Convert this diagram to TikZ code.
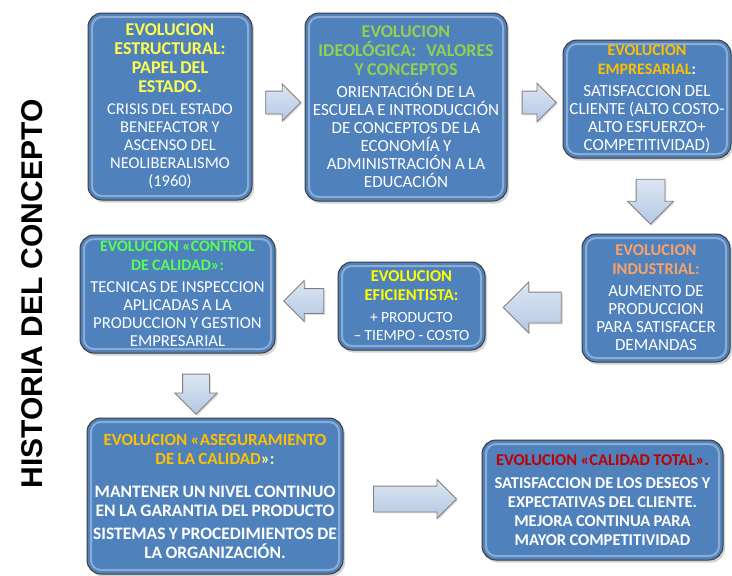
\documentclass[tikz,border=0pt]{standalone}
\usepackage{fontspec}
\setmainfont{Carlito}
\newfontfamily\arialf{Liberation Sans}
\usetikzlibrary{shapes.arrows,shadows,calc}
\definecolor{boxblue}{HTML}{4F81BD}
\definecolor{boxedge}{HTML}{3C3C3C}
\definecolor{arrtop}{HTML}{DCE6F2}
\definecolor{arrbot}{HTML}{B4C8E4}
\definecolor{arredge}{HTML}{7F7F7F}
\definecolor{cyel}{HTML}{FFFF4D}
\definecolor{cgreen}{HTML}{92D050}
\definecolor{cgold}{HTML}{FFC000}
\definecolor{csalmon}{HTML}{F9A36B}
\definecolor{cyel2}{HTML}{FFFF00}
\definecolor{cgreen2}{HTML}{55FF55}
\definecolor{cred}{HTML}{C00000}
\definecolor{clightyel}{HTML}{FFF59A}
\newcommand\evtitle[3][16]{{\fontsize{#1}{19}\selectfont\bfseries\color{#2}#3\par}\vspace{4pt}}
\newcommand\evbody[2][17]{{\fontsize{#1}{18}\selectfont #2\par}}
\newcommand\evbodyb[2][16.5]{{\fontsize{#1}{19}\selectfont\bfseries #2\par}}
\tikzset{
  evbox/.style={rectangle, rounded corners=14pt, draw=boxedge, line width=1pt,
    fill=boxblue, text=white, align=center, inner sep=0pt,
    drop shadow={opacity=0.35, shadow xshift=2pt, shadow yshift=-2.5pt},
    path picture={\draw[white, opacity=0.35, line width=2pt, rounded corners=10pt]
      ([shift={(4pt,-4pt)}]path picture bounding box.north west) rectangle
      ([shift={(-4pt,4pt)}]path picture bounding box.south east);}},
  blockarrow/.style={single arrow, draw=arredge, top color=arrtop, bottom color=arrbot,
    line width=0.8pt, single arrow tip angle=90,
    drop shadow={opacity=0.25, shadow xshift=1.5pt, shadow yshift=-1.5pt}},
  vtitle/.style={font=\arialf\bfseries\fontsize{30}{32}\selectfont, text=black, rotate=90}
}
\begin{document}
\begin{tikzpicture}[x=1pt,y=-1pt]
\useasboundingbox (0,0) rectangle (732,576);

\node[vtitle] (title) at (32,294) {HISTORIA DEL CONCEPTO};

\node[evbox, minimum width=164pt, minimum height=187pt, text width=160pt] (b1) at (170,106.5)
 {\evtitle[18]{cyel}{EVOLUCION\\ESTRUCTURAL:\\PAPEL DEL\\ESTADO.}\evbody[16.5]{CRISIS DEL ESTADO\\BENEFACTOR Y\\ASCENSO DEL\\NEOLIBERALISMO\\(1960)}};

\node[evbox, minimum width=202pt, minimum height=188pt, text width=198pt] (b2) at (406,107)
 {\evtitle[18]{cgreen}{EVOLUCION\\IDEOLÓGICA:\ \ \ VALORES\\Y CONCEPTOS}\evbody{ORIENTACIÓN DE LA\\ESCUELA E INTRODUCCIÓN\\DE CONCEPTOS DE LA\\ECONOMÍA Y\\ADMINISTRACIÓN A LA\\EDUCACIÓN}};

\node[evbox, minimum width=168pt, minimum height=118pt, text width=166pt] (b3) at (647,99)
 {\evtitle[16]{cgold}{EVOLUCION\\EMPRESARIAL\textcolor{white}{:}}\evbody{SATISFACCION DEL\\CLIENTE (ALTO COSTO-\\ALTO ESFUERZO+\\COMPETITIVIDAD)}};

\node[evbox, minimum width=148pt, minimum height=128pt, text width=144pt] (b4) at (656,298)
 {\evtitle[16.5]{csalmon}{EVOLUCION\\INDUSTRIAL:}\evbody{AUMENTO DE\\PRODUCCION\\PARA SATISFACER\\DEMANDAS}};

\node[evbox, minimum width=147pt, minimum height=88pt, text width=143pt] (b5) at (411.5,306)
 {\evtitle[16.5]{cyel2}{EVOLUCION\\EFICIENTISTA:}\evbody[15.5]{+ PRODUCTO\\– TIEMPO - COSTO}};

\node[evbox, minimum width=195pt, minimum height=118pt, text width=193pt] (b6) at (177.5,294)
 {\evtitle[16]{cgreen2}{EVOLUCION «CONTROL\\DE CALIDAD»:}\evbody[16.7]{TECNICAS DE INSPECCION\\APLICADAS A LA\\PRODUCCION Y GESTION\\EMPRESARIAL}};

\node[evbox, minimum width=256pt, minimum height=156pt, text width=254pt] (b7) at (215,496)
 {\evtitle[17]{cgold}{EVOLUCION «ASEGURAMIENTO\\DE LA CALIDAD\textcolor{clightyel}{»:}}\vspace{10pt}\evbodyb[17.5]{MANTENER UN NIVEL CONTINUO\\EN LA GARANTIA DEL PRODUCTO}\vspace{4pt}\evbodyb[17.5]{SISTEMAS Y PROCEDIMIENTOS DE\\LA ORGANIZACIÓN.}};

\node[evbox, minimum width=241pt, minimum height=120pt, text width=237pt] (b8) at (602.5,500)
 {\evtitle[16.5]{cred}{EVOLUCION «CALIDAD TOTAL».}\evbodyb{SATISFACCION DE LOS DESEOS Y\\EXPECTATIVAS DEL CLIENTE.\\MEJORA CONTINUA PARA\\MAYOR COMPETITIVIDAD}};

\node[blockarrow, minimum height=35pt, inner sep=11pt, single arrow head extend=7pt] (a12) at (277.5,102.5) {};
\node[blockarrow, minimum height=33pt, inner sep=11pt, single arrow head extend=8pt] (a23) at (533.5,102.5) {};
\node[blockarrow, shape border rotate=270, minimum height=45pt, inner sep=14pt, single arrow head extend=8.5pt] (a34) at (650.5,194.5) {};
\node[blockarrow, shape border rotate=180, minimum height=58pt, inner sep=15pt, single arrow head extend=10pt] (a45) at (540,307.5) {};
\node[blockarrow, shape border rotate=180, minimum height=40pt, inner sep=12pt, single arrow head extend=8pt] (a56) at (310,301) {};
\node[blockarrow, shape border rotate=270, minimum height=40pt, inner sep=13pt, single arrow head extend=8pt] (a67) at (196,387.5) {};
\node[blockarrow, minimum height=83pt, inner sep=12.5pt, single arrow head extend=6.5pt] (a78) at (408.5,499) {};
\end{tikzpicture}
\end{document}
